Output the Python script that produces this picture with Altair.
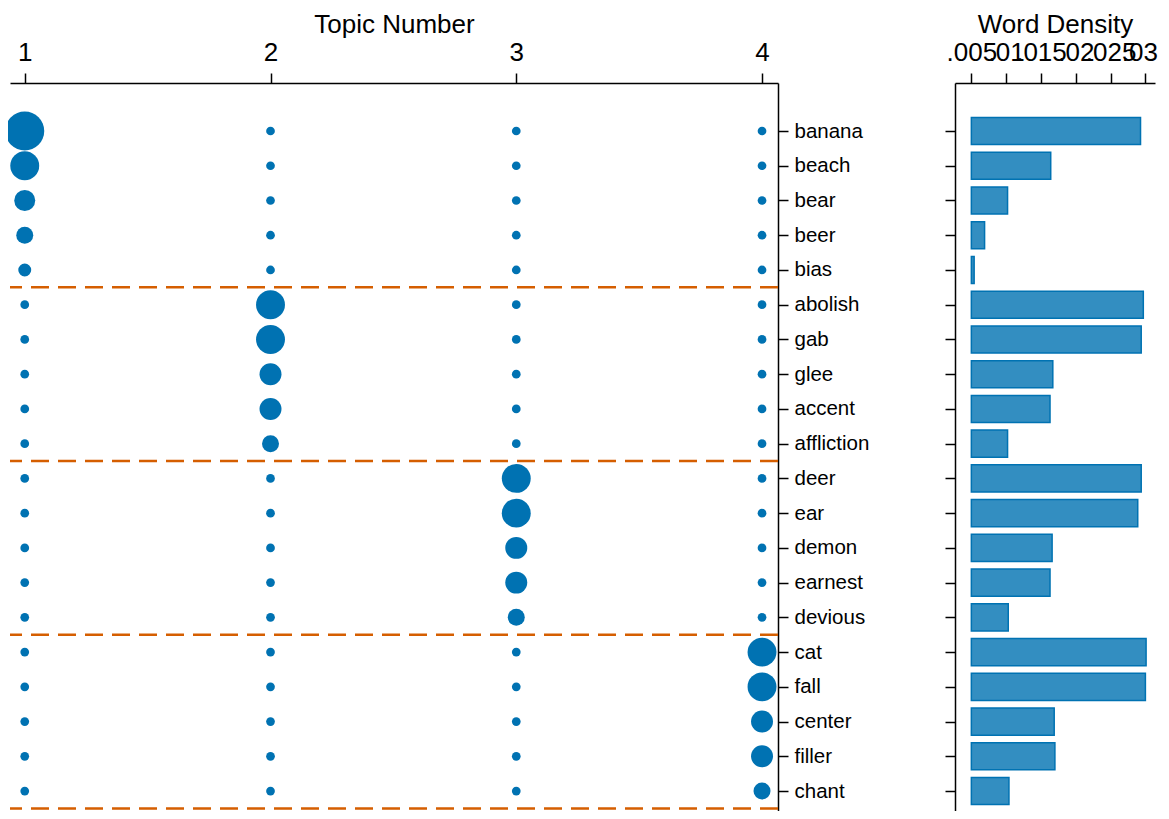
import json
import altair as alt
import pandas as pd

# ---------------- data ----------------
words = ["banana", "beach", "bear", "beer", "bias",
         "abolish", "gab", "glee", "accent", "affliction",
         "deer", "ear", "demon", "earnest", "devious",
         "cat", "fall", "center", "filler", "chant"]
topics = [1, 2, 3, 4]
word_density = [0.0293, 0.0164, 0.0102, 0.0069, 0.0054,
                0.0297, 0.0294, 0.0167, 0.0163, 0.0102,
                0.0294, 0.0289, 0.0166, 0.0163, 0.0103,
                0.0301, 0.0300, 0.0169, 0.0170, 0.0104]
density_base = 0.005
topic1_weight = [0.40, 0.22, 0.116, 0.076, 0.044,
                 0.02, 0.02, 0.02, 0.02, 0.02,
                 0.02, 0.02, 0.02, 0.02, 0.02,
                 0.02, 0.02, 0.02, 0.02, 0.02]
topic2_weight = [0.02, 0.02, 0.02, 0.02, 0.02,
                 0.22, 0.22, 0.127, 0.127, 0.076,
                 0.02, 0.02, 0.02, 0.02, 0.02,
                 0.02, 0.02, 0.02, 0.02, 0.02]
topic3_weight = [0.02, 0.02, 0.02, 0.02, 0.02,
                 0.02, 0.02, 0.02, 0.02, 0.02,
                 0.22, 0.22, 0.127, 0.127, 0.076,
                 0.02, 0.02, 0.02, 0.02, 0.02]
topic4_weight = [0.02, 0.02, 0.02, 0.02, 0.02,
                 0.02, 0.02, 0.02, 0.02, 0.02,
                 0.02, 0.02, 0.02, 0.02, 0.02,
                 0.22, 0.22, 0.127, 0.127, 0.076]
group_breaks = [4.5, 9.5, 14.5, 19.5]
density_ticks = [0.005, 0.01, 0.015, 0.02, 0.025, 0.03]

weights = [topic1_weight, topic2_weight, topic3_weight, topic4_weight]
circ_rows = []
for i, w in enumerate(words):
    for t, tw in zip(topics, weights):
        circ_rows.append({"word": w, "row": i, "topic": t, "weight": tw[i]})
df_circ = pd.DataFrame(circ_rows)
df_bar = pd.DataFrame({"word": words, "row": list(range(len(words))), "density": word_density})
df_break = pd.DataFrame({"pos": group_breaks})

BLUE = "#0072B2"
ORANGE = "#D55E00"
FONT = "Liberation Sans"
BIG = 26

y_scale = alt.Scale(domain=[-1.382, 19.574], reverse=True, nice=False, zero=False)
word_expr = json.dumps(words) + "[datum.value]"
word_axis = alt.Axis(orient="right", values=list(range(len(words))), labelExpr=word_expr,
                     labelOverlap=False, title=None, grid=False, tickSize=10,
                     labelPadding=6, labelFontSize=20.5)

# ---------------- left panel ----------------
rules = alt.Chart(df_break).mark_rule(color=ORANGE, strokeDash=[18, 9], strokeWidth=2.5).encode(
    y=alt.Y("pos:Q", scale=y_scale, axis=word_axis)
)
circles = alt.Chart(df_circ).mark_circle(color=BLUE, opacity=1).encode(
    x=alt.X("topic:Q",
            scale=alt.Scale(domain=[0.94, 4.065], nice=False, zero=False),
            axis=alt.Axis(orient="top", values=topics, format="d", title="Topic Number",
                          grid=False, tickSize=10, labelPadding=8, titlePadding=2,
                          labelFontSize=BIG, titleFontSize=BIG)),
    y=alt.Y("row:Q", scale=y_scale, axis=word_axis),
    size=alt.Size("weight:Q", scale=alt.Scale(domain=[0, 0.4], range=[0, 1521]), legend=None),
)
left = alt.layer(rules, circles).properties(width=768, height=728)

# ---------------- right panel ----------------
bars = alt.Chart(df_bar).transform_calculate(
    y0="datum.row - 0.39", y1="datum.row + 0.39"
).mark_rect(color=BLUE, fillOpacity=0.8, stroke=BLUE, strokeWidth=1.5).encode(
    x=alt.X("density:Q",
            scale=alt.Scale(domain=[0.00265, 0.03138], nice=False, zero=False),
            axis=alt.Axis(orient="top", values=density_ticks, title="Word Density",
                          labelExpr="substring(format(datum.value, '.3~f'), 1)",
                          labelOverlap=False, labelFlush=False,
                          labelOffset={"condition": {"test": "datum.value >= 0.03", "value": -6},
                                       "value": 0},
                          grid=False, tickSize=10, labelPadding=8, titlePadding=2,
                          labelFontSize=BIG, titleFontSize=BIG)),
    x2=alt.datum(density_base),
    y=alt.Y("y0:Q", scale=y_scale,
            axis=alt.Axis(orient="left", values=list(range(len(words))), labels=False,
                          labelOverlap=False, title=None, grid=False, tickSize=10)),
    y2="y1:Q",
)
right = bars.properties(width=200, height=728)

chart = alt.hconcat(left, right, spacing=75).properties(
    padding={"left": -3, "top": 3, "right": 0, "bottom": 0}
).configure(font=FONT).configure_view(stroke=None).configure_axis(
    domainColor="black", tickColor="black", labelColor="black", titleColor="black",
    domainWidth=1.5, tickWidth=1.5, titleFontWeight="normal", labelFont=FONT, titleFont=FONT,
    labelOverlap=False,
)

chart.save("out.html", embed_options={"renderer": "svg", "actions": False})
